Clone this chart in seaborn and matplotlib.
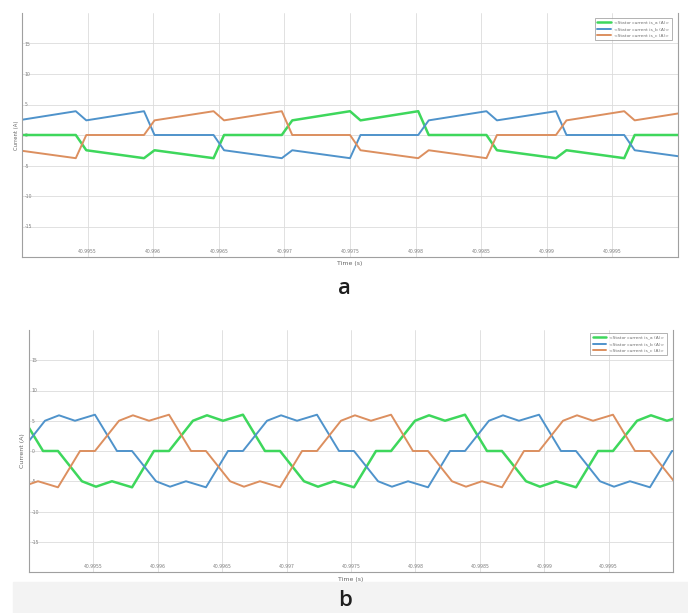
import seaborn as sns
import matplotlib.pyplot as plt
from matplotlib.patches import Rectangle

# ---------------- data ----------------
series_names = ['<Stator current is_a (A)>', '<Stator current is_b (A)>', '<Stator current is_c (A)>']
series_colors = ['#3ed75c', '#4f93cb', '#dc8f5f']

xticks = [40.9955, 40.996, 40.9965, 40.997, 40.9975, 40.998, 40.9985, 40.999, 40.9995]
xtick_labels = ['40.9955', '40.996', '40.9965', '40.997', '40.9975', '40.998', '40.9985', '40.999', '40.9995']
yticks = [-15, -10, -5, 0, 5, 10, 15]
ytick_labels = ['-15', '-10', '-5', '0', '5', '10', '15']

# panel a : all three phases share the same switching instants
time_a = [40.99497, 40.99541, 40.99549, 40.99593, 40.99601, 40.99646, 40.99654, 40.99698,
          40.99706, 40.99750, 40.99758, 40.99802, 40.99810, 40.99854, 40.99862, 40.99907,
          40.99915, 40.99959, 40.99967, 41.00011]
isa_a = [0, 0, -2.5, -3.8, -2.5, -3.8, 0, 0, 2.4, 3.9, 2.4, 3.9, 0, 0, -2.5, -3.8, -2.5, -3.8, 0, 0]
isb_a = [2.4, 3.9, 2.4, 3.9, 0, 0, -2.5, -3.8, -2.5, -3.8, 0, 0, 2.4, 3.9, 2.4, 3.9, 0, 0, -2.5, -3.8]
isc_a = [-2.5, -3.8, 0, 0, 2.4, 3.9, 2.4, 3.9, 0, 0, -2.5, -3.8, -2.5, -3.8, 0, 0, 2.4, 3.9, 2.4, 3.9]

# panel b
time_b_a = [40.994938, 40.995109, 40.995225, 40.995411, 40.995520, 40.995644, 40.995800, 40.995970,
            40.996087, 40.996273, 40.996382, 40.996506, 40.996661, 40.996832, 40.996949, 40.997135,
            40.997244, 40.997368, 40.997523, 40.997694, 40.997811, 40.997997, 40.998106, 40.998230,
            40.998385, 40.998556, 40.998672, 40.998859, 40.998967, 40.999092, 40.999247, 40.999418,
            40.999534, 40.999721, 40.999829, 40.999953, 41.000109]
isa_b = [6.0, 0, 0, -5.0, -5.9, -5.0, -6.0, 0, 0, 5.0, 5.9, 5.0, 6.0, 0, 0, -5.0, -5.9, -5.0, -6.0,
         0, 0, 5.0, 5.9, 5.0, 6.0, 0, 0, -5.0, -5.9, -5.0, -6.0, 0, 0, 5.0, 5.9, 5.0, 6.0]

time_b_b = [40.994938, 40.995124, 40.995233, 40.995357, 40.995512, 40.995683, 40.995800, 40.995986,
            40.996095, 40.996219, 40.996374, 40.996545, 40.996661, 40.996848, 40.996957, 40.997081,
            40.997236, 40.997407, 40.997523, 40.997710, 40.997818, 40.997943, 40.998098, 40.998269,
            40.998385, 40.998571, 40.998680, 40.998804, 40.998960, 40.999130, 40.999247, 40.999433,
            40.999542, 40.999666, 40.999821, 40.999992, 41.000109]
isb_b = [0, 5.0, 5.9, 5.0, 6.0, 0, 0, -5.0, -5.9, -5.0, -6.0, 0, 0, 5.0, 5.9, 5.0, 6.0, 0, 0,
         -5.0, -5.9, -5.0, -6.0, 0, 0, 5.0, 5.9, 5.0, 6.0, 0, 0, -5.0, -5.9, -5.0, -6.0, 0, 0]

time_b_c = [40.994837, 40.994946, 40.995070, 40.995225, 40.995396, 40.995512, 40.995699, 40.995807,
            40.995932, 40.996087, 40.996258, 40.996374, 40.996561, 40.996669, 40.996793, 40.996949,
            40.997120, 40.997236, 40.997422, 40.997531, 40.997655, 40.997811, 40.997981, 40.998098,
            40.998284, 40.998393, 40.998517, 40.998672, 40.998843, 40.998960, 40.999146, 40.999255,
            40.999379, 40.999534, 40.999705, 40.999821, 41.000008, 41.000117]
isc_b = [-5.0, -5.9, -5.0, -6.0, 0, 0, 5.0, 5.9, 5.0, 6.0, 0, 0, -5.0, -5.9, -5.0, -6.0, 0, 0,
         5.0, 5.9, 5.0, 6.0, 0, 0, -5.0, -5.9, -5.0, -6.0, 0, 0, 5.0, 5.9, 5.0, 6.0, 0, 0, -5.0, -5.9]

# ---------------- figure ----------------
sns.set_style('whitegrid')
plt.rcParams['font.family'] = ['DejaVu Sans']

fig = plt.figure(figsize=(6.88, 6.13), dpi=100)
W, H = 688.0, 613.0

# light grey band under panel b
fig.patches.append(Rectangle((13 / W, 0), 1, 31 / H, transform=fig.transFigure,
                             color='#f3f3f3', zorder=-5))

ax_a = fig.add_axes([22 / W, 1 - 257 / H, 656 / W, 244 / H])
ax_b = fig.add_axes([29 / W, 1 - 572 / H, 644 / W, 242 / H])


def draw_panel(ax, curves, leg_anchor, xlab_y, ylab_x, ylab_size):
    for (t, v), name, col in zip(curves, series_names, series_colors):
        lw = 1.8 if col == series_colors[0] else 1.4
        sns.lineplot(x=t, y=v, color=col, linewidth=lw, label=name, ax=ax,
                     estimator=None, sort=False)

    ax.set_xlim(40.995, 41.0)
    ax.set_ylim(-20, 20)
    ax.set_xticks(xticks)
    ax.set_xticklabels(xtick_labels)
    ax.set_yticks(yticks)
    ax.set_yticklabels(ytick_labels)

    ax.grid(True, color='#dcdcdc', linewidth=0.6)
    ax.tick_params(length=0, labelsize=3.3, labelcolor='#808080')
    ax.tick_params(axis='x', pad=-5.5)
    ax.tick_params(axis='y', pad=-2)
    for lab in ax.get_yticklabels():
        lab.set_horizontalalignment('left')

    ax.spines['top'].set_visible(False)
    for s in ['left', 'bottom', 'right']:
        ax.spines[s].set_visible(True)
        ax.spines[s].set_color('#a0a0a0')
        ax.spines[s].set_linewidth(0.8)

    ax.set_xlabel('Time (s)', fontsize=4.5, color='#666666')
    ax.set_ylabel('Current (A)', fontsize=ylab_size, color='#666666')
    ax.xaxis.set_label_coords(0.5, xlab_y)
    ax.yaxis.set_label_coords(ylab_x, 0.5)

    leg = ax.legend(loc='upper right', bbox_to_anchor=leg_anchor, borderaxespad=0,
                    fontsize=3.2, handlelength=3, frameon=True, fancybox=False,
                    borderpad=0.6, labelspacing=0.55)
    leg.get_frame().set_edgecolor('#909090')
    leg.get_frame().set_linewidth(0.6)
    for text in leg.get_texts():
        text.set_color('#707070')


draw_panel(ax_a, [(time_a, isa_a), (time_a, isb_a), (time_a, isc_a)],
           (0.991, 0.98), -0.016, -0.005, 3.8)
draw_panel(ax_b, [(time_b_a, isa_b), (time_b_b, isb_b), (time_b_c, isc_b)],
           (0.991, 0.988), -0.02, -0.006, 4.5)

fig.text(344 / W, 1 - 288 / H, 'a', ha='center', va='center', fontsize=16,
         fontfamily='Open Sans', fontweight='semibold', color='#1e1e1e')
fig.text(345 / W, 1 - 600 / H, 'b', ha='center', va='center', fontsize=16,
         fontfamily='Open Sans', fontweight='semibold', color='#1e1e1e')

fig.savefig('out.png', dpi=100)
